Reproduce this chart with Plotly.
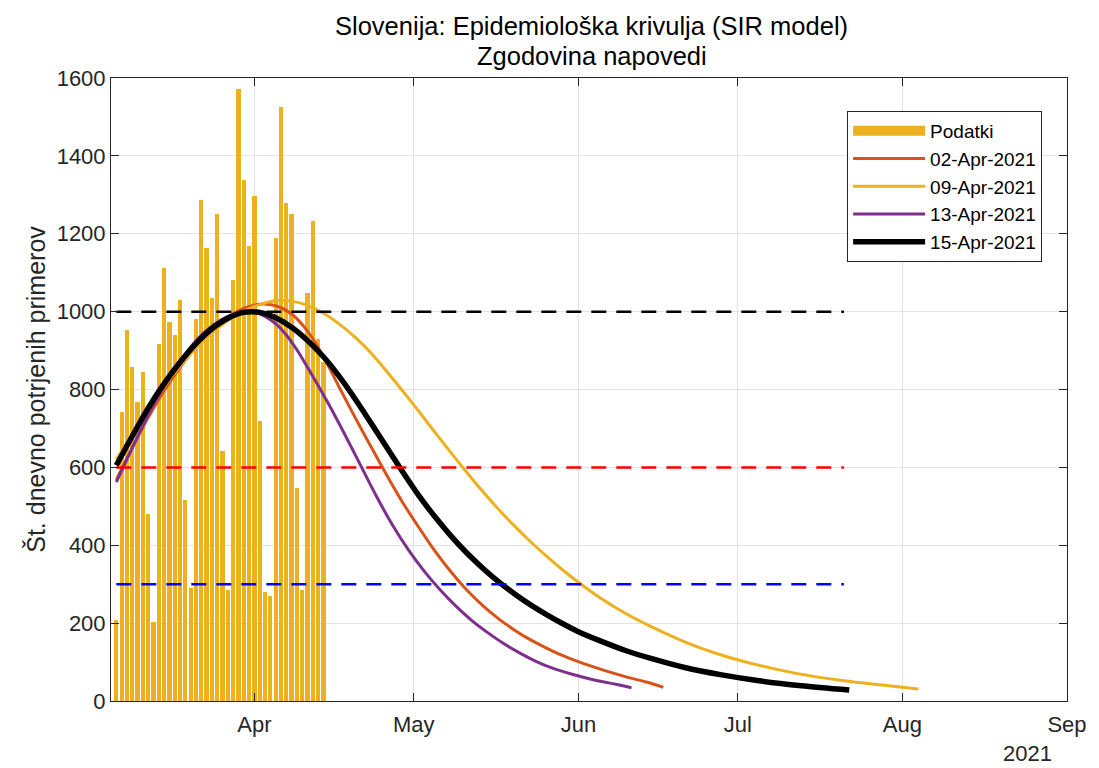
import plotly.graph_objects as go

# ---------------- data ----------------
bar_dates = [
    "2021-03-06", "2021-03-07", "2021-03-08", "2021-03-09", "2021-03-10",
    "2021-03-11", "2021-03-12", "2021-03-13", "2021-03-14", "2021-03-15",
    "2021-03-16", "2021-03-17", "2021-03-18", "2021-03-19", "2021-03-20",
    "2021-03-21", "2021-03-22", "2021-03-23", "2021-03-24", "2021-03-25",
    "2021-03-26", "2021-03-27", "2021-03-28", "2021-03-29", "2021-03-30",
    "2021-03-31", "2021-04-01", "2021-04-02", "2021-04-03", "2021-04-04",
    "2021-04-05", "2021-04-06", "2021-04-07", "2021-04-08", "2021-04-09",
    "2021-04-10", "2021-04-11", "2021-04-12", "2021-04-13", "2021-04-14",
]
bar_values = [
    209, 741, 953, 858, 769, 846, 481, 204, 918, 1112,
    973, 940, 1029, 516, 290, 981, 1286, 1164, 1034, 1252,
    641, 286, 1081, 1572, 1338, 1169, 1297, 719, 281, 270,
    1189, 1526, 1278, 1250, 548, 286, 1049, 1232, 930, 870,
]

# forecast of 02-Apr-2021
f02_dates = ["2021-03-06", "2021-03-09", "2021-03-12", "2021-03-15", "2021-03-18",
             "2021-03-21", "2021-03-24", "2021-03-27", "2021-03-30", "2021-04-02",
             "2021-04-05", "2021-04-08", "2021-04-11", "2021-04-14", "2021-04-17",
             "2021-04-20", "2021-04-23", "2021-04-26", "2021-04-29", "2021-05-02",
             "2021-05-05", "2021-05-08", "2021-05-11", "2021-05-14", "2021-05-17",
             "2021-05-20", "2021-05-23", "2021-05-26", "2021-05-29", "2021-06-02",
             "2021-06-06", "2021-06-10", "2021-06-14", "2021-06-17"]
f02_values = [568, 650, 728, 797, 857, 910, 953, 986, 1008, 1019,
              1015, 994, 950, 885, 805, 727, 652, 578, 508, 445,
              385, 332, 285, 245, 211, 182, 157, 136, 117, 96,
              78, 62, 48, 35]

# forecast of 09-Apr-2021
f09_dates = ["2021-03-06", "2021-03-09", "2021-03-12", "2021-03-15", "2021-03-18",
             "2021-03-21", "2021-03-24", "2021-03-27", "2021-03-30", "2021-04-02",
             "2021-04-05", "2021-04-08", "2021-04-11", "2021-04-14", "2021-04-17",
             "2021-04-20", "2021-04-23", "2021-04-26", "2021-04-29", "2021-05-02",
             "2021-05-05", "2021-05-08", "2021-05-11", "2021-05-14", "2021-05-17",
             "2021-05-20", "2021-05-23", "2021-05-26", "2021-05-29", "2021-06-01",
             "2021-06-05", "2021-06-10", "2021-06-15", "2021-06-21", "2021-06-27",
             "2021-07-04", "2021-07-12", "2021-07-21", "2021-07-29", "2021-08-04"]
f09_values = [620, 685, 750, 808, 860, 906, 945, 977, 1001, 1018,
              1028, 1027, 1016, 996, 968, 934, 893, 845, 795, 743,
              690, 638, 587, 538, 492, 449, 409, 372, 337, 305,
              266, 224, 189, 152, 122, 95, 71, 52, 40, 31]

# forecast of 13-Apr-2021
f13_dates = ["2021-03-06", "2021-03-09", "2021-03-12", "2021-03-15", "2021-03-18",
             "2021-03-21", "2021-03-24", "2021-03-27", "2021-03-30", "2021-04-01",
             "2021-04-03", "2021-04-05", "2021-04-07", "2021-04-09", "2021-04-11",
             "2021-04-13", "2021-04-15", "2021-04-18", "2021-04-21", "2021-04-24",
             "2021-04-27", "2021-04-30", "2021-05-03", "2021-05-06", "2021-05-09",
             "2021-05-12", "2021-05-15", "2021-05-18", "2021-05-21", "2021-05-24",
             "2021-05-27", "2021-05-31", "2021-06-04", "2021-06-08", "2021-06-11"]
f13_values = [562, 650, 735, 810, 872, 925, 963, 988, 1000, 998,
              988, 969, 940, 902, 857, 810, 762, 685, 605, 525,
              452, 388, 333, 285, 243, 206, 175, 147, 123, 102,
              85, 68, 54, 43, 34]

# forecast of 15-Apr-2021
f15_dates = ["2021-03-06", "2021-03-09", "2021-03-12", "2021-03-15", "2021-03-18",
             "2021-03-21", "2021-03-24", "2021-03-27", "2021-03-30", "2021-04-02",
             "2021-04-05", "2021-04-08", "2021-04-11", "2021-04-14", "2021-04-17",
             "2021-04-20", "2021-04-23", "2021-04-26", "2021-04-29", "2021-05-02",
             "2021-05-05", "2021-05-08", "2021-05-11", "2021-05-14", "2021-05-17",
             "2021-05-20", "2021-05-23", "2021-05-26", "2021-05-29", "2021-06-01",
             "2021-06-05", "2021-06-10", "2021-06-15", "2021-06-21", "2021-06-28",
             "2021-07-05", "2021-07-13", "2021-07-22"]
f15_values = [605, 680, 752, 815, 870, 918, 956, 983, 998, 998,
              984, 960, 926, 884, 833, 775, 713, 650, 587, 527,
              473, 424, 380, 341, 306, 275, 247, 222, 199, 178,
              155, 129, 108, 86, 67, 52, 39, 28]

threshold_dates = ["2021-03-06", "2021-07-21"]
threshold_levels = [1000, 600, 300]
threshold_colors = ["#000000", "#FF0000", "#0000FF"]

month_ticks = ["2021-04-01", "2021-05-01", "2021-06-01", "2021-07-01", "2021-08-01", "2021-09-01"]
month_labels = ["Apr", "May", "Jun", "Jul", "Aug", "Sep"]
y_ticks = [0, 200, 400, 600, 800, 1000, 1200, 1400, 1600]

title_lines = ["Slovenija: Epidemiološka krivulja (SIR model)", "Zgodovina napovedi"]

FONT = "Liberation Sans, Arial, Helvetica, sans-serif"
AX = "#262626"
YELLOW = "#EDB120"

fig = go.Figure()

fig.add_trace(go.Bar(
    x=bar_dates, y=bar_values, marker_color=YELLOW, marker_line_width=0,
    width=0.8 * 86400000, name="Podatki", showlegend=False, legendgroup="pod",
))
# legend stand-in for the bar patch
fig.add_trace(go.Scatter(
    x=[None], y=[None], mode="lines", line=dict(color=YELLOW, width=18),
    name="Podatki", legendgroup="pod",
))

curves = [
    (f02_dates, f02_values, "#D95319", 3, "02-Apr-2021"),
    (f09_dates, f09_values, "#EDB120", 3, "09-Apr-2021"),
    (f13_dates, f13_values, "#7E2F8E", 3, "13-Apr-2021"),
    (f15_dates, f15_values, "#000000", 5.5, "15-Apr-2021"),
]
for xd, yd, col, w, nm in curves:
    fig.add_trace(go.Scatter(
        x=xd, y=yd, mode="lines",
        line=dict(color=col, width=w, shape="spline", smoothing=0.8),
        name=nm,
    ))

for lvl, col in zip(threshold_levels, threshold_colors):
    fig.add_trace(go.Scatter(
        x=threshold_dates, y=[lvl, lvl], mode="lines",
        line=dict(color=col, width=2.5, dash="15px,10px"),
        showlegend=False, hoverinfo="skip",
    ))

fig.update_layout(
    width=1099, height=768,
    margin=dict(l=111, r=22, t=78, b=67),
    paper_bgcolor="white", plot_bgcolor="white",
    font=dict(family=FONT, size=22, color=AX),
    showlegend=True,
    legend=dict(
        x=0.770, y=0.947, xanchor="left", yanchor="top",
        bgcolor="white", bordercolor=AX, borderwidth=1,
        font=dict(family=FONT, size=19, color="#000000"),
        itemwidth=72, tracegroupgap=0,
    ),
    bargap=0,
)

fig.update_xaxes(
    type="date", range=["2021-03-05", "2021-09-01"],
    tickvals=month_ticks, ticktext=month_labels,
    ticks="inside", ticklen=8, tickcolor=AX, tickwidth=1,
    showline=True, linecolor=AX, linewidth=1, mirror="ticks",
    showgrid=True, gridcolor="#E3E3E3", gridwidth=1,
    tickfont=dict(family=FONT, size=22, color=AX), zeroline=False,
    ticklabelstandoff=4,
)
fig.update_yaxes(
    range=[0, 1600], tickvals=y_ticks,
    ticks="inside", ticklen=8, tickcolor=AX, tickwidth=1,
    showline=True, linecolor=AX, linewidth=1, mirror="ticks",
    showgrid=True, gridcolor="#E3E3E3", gridwidth=1,
    tickfont=dict(family=FONT, size=22, color=AX), zeroline=False,
    title=dict(text="Št. dnevno potrjenih primerov",
               font=dict(family=FONT, size=25, color=AX), standoff=3),
)

for txt, yy in zip(title_lines, [1.0835, 1.0353]):
    fig.add_annotation(
        text=txt, xref="paper", yref="paper", x=0.503, y=yy,
        xanchor="center", yanchor="middle", showarrow=False,
        font=dict(family=FONT, size=25.5, color="#000000"),
    )

fig.add_annotation(
    text="2021", xref="paper", yref="paper", x=0.9586, y=-0.0835,
    xanchor="center", yanchor="middle", showarrow=False,
    font=dict(family=FONT, size=22, color=AX),
)

# remove the default page margin so the figure sits at the window's corner
fig.write_html("out.html", config={"displayModeBar": False},
               post_script="document.body.style.margin='0px';")
